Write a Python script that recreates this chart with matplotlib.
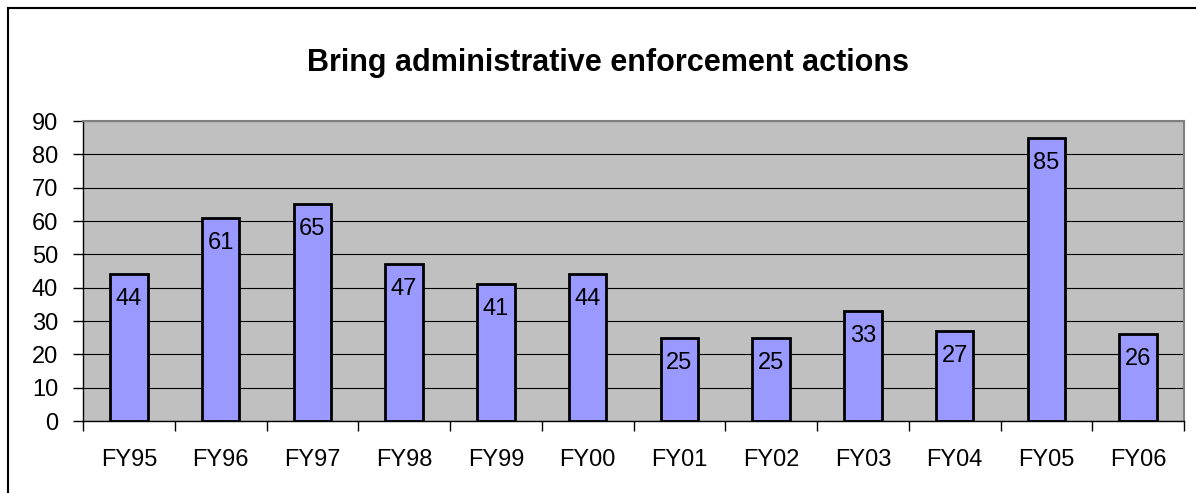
import numpy as np
import matplotlib.pyplot as plt
from matplotlib.lines import Line2D

plt.rcParams['font.family'] = ['Liberation Sans', 'DejaVu Sans']

# datos
years = ['FY95', 'FY96', 'FY97', 'FY98', 'FY99', 'FY00',
         'FY01', 'FY02', 'FY03', 'FY04', 'FY05', 'FY06']
actions = [44, 61, 65, 47, 41, 44, 25, 25, 33, 27, 85, 26]
y_ticks = np.arange(0, 91, 10)

fig = plt.figure(figsize=(11.96, 4.93), dpi=100)
ax = fig.add_axes([83 / 1196, 1 - 421 / 493, 1101 / 1196, 300 / 493])

x = np.arange(len(years))
ax.set_facecolor('#C0C0C0')
ax.bar(x, actions, width=0.41, color='#9999FF', edgecolor='black',
       linewidth=2, zorder=3)

for xi, v in zip(x, actions):
    ax.annotate(str(v), (xi, v), xytext=(0, -18), textcoords='offset points',
                ha='center', va='center', fontsize=17, zorder=4)

ax.set_xlim(-0.5, len(years) - 0.5)
ax.set_ylim(0, 90)
ax.set_yticks(y_ticks)
ax.yaxis.grid(True, color='black', linewidth=0.8, zorder=1)
ax.set_axisbelow(True)

# ticks del eje x entre categorias
ax.set_xticks(np.arange(-0.5, len(years), 1), minor=False)
ax.set_xticklabels([])
ax.set_xticks(x, minor=True)
ax.set_xticklabels(years, minor=True, fontsize=17)
ax.tick_params(axis='x', which='major', length=7, width=1, direction='out')
ax.tick_params(axis='x', which='minor', length=0, pad=20)
ax.tick_params(axis='y', length=7, width=1, pad=11, labelsize=17)

for s in ['top', 'right']:
    ax.spines[s].set_color('#808080')
    ax.spines[s].set_linewidth(1.5)
for s in ['left', 'bottom']:
    ax.spines[s].set_color('black')
    ax.spines[s].set_linewidth(1)

fig.text(0.5 * (276 + 940) / 1196, 1 - 63 / 493,
         'Bring administrative enforcement actions',
         ha='center', va='center', fontsize=22, fontweight='bold')

# borde de la figura
fig.add_artist(Line2D([7.5 / 1196, 7.5 / 1196], [0, 1 - 7.5 / 493],
                      color='black', linewidth=1.5))
fig.add_artist(Line2D([7.5 / 1196, 1], [1 - 7.5 / 493, 1 - 7.5 / 493],
                      color='black', linewidth=1.5))

fig.savefig('out.png', dpi=100)
